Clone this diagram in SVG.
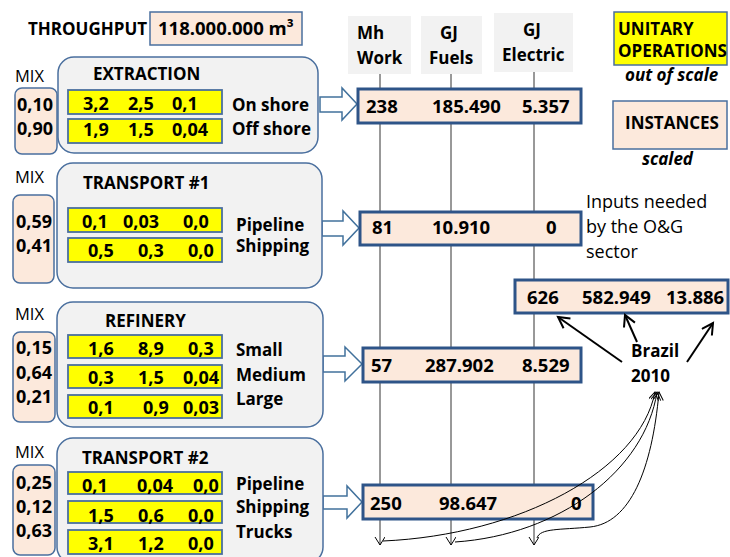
<svg xmlns="http://www.w3.org/2000/svg" width="730" height="557" viewBox="0 0 730 557">
<defs>
<style>
text{font-family:"Open Sans","Liberation Sans",sans-serif;fill:#000}
.b{font-weight:bold;font-size:17px}
.n{font-size:18px}
.v{font-weight:bold;font-size:18px}
.num{font-weight:bold;font-size:18.5px}
.mixl{font-size:16.5px}
.it{font-weight:bold;font-style:italic;font-size:17px}
.lg{font-weight:bold;font-size:17px}
.gray{fill:#f2f2f2;stroke:#4a6f9e;stroke-width:1.5}
.mix{fill:#fce9dc;stroke:#4a6f9e;stroke-width:1.5}
.yel{fill:#ffff00;stroke:#4a6f9e;stroke-width:1.8}
.inst{fill:#fce9dc;stroke:#2e5488;stroke-width:3}
.hdr{fill:#f2f2f2}
.barrow{fill:#fff;stroke:#41719c;stroke-width:1.5;stroke-linejoin:miter}
.vline{stroke:#333;stroke-width:1;fill:none}
.curve{stroke:#000;stroke-width:1;fill:none}
.barr{stroke:#000;stroke-width:2;fill:none}
</style>
<marker id="vdown" markerUnits="userSpaceOnUse" markerWidth="12" markerHeight="12" refX="10" refY="5" orient="auto">
<path d="M2,0 L10,5 L2,10" fill="none" stroke="#000" stroke-width="1"/>
</marker>
<marker id="bhead" markerUnits="userSpaceOnUse" markerWidth="16" markerHeight="16" refX="13" refY="7" orient="auto">
<path d="M2,1 L13,7 L2,13" fill="none" stroke="#000" stroke-width="2"/>
</marker>
</defs>

<g id="throughput">
<text class="b" x="28" y="35">THROUGHPUT</text>
<rect x="150" y="12" width="152" height="33" fill="#fce9dc" stroke="#4a6f9e" stroke-width="1.5"/>
<text class="num" x="158" y="35">118.000.000 m³</text>
</g>

<g id="headers">
<rect class="hdr" x="348" y="16" width="63" height="58"/>
<rect class="hdr" x="421" y="16" width="61" height="58"/>
<rect class="hdr" x="494" y="13" width="79" height="59"/>
<text class="b" x="357" y="39">Mh</text>
<text class="b" x="357" y="64">Work</text>
<text class="b" x="440" y="39">GJ</text>
<text class="b" x="429" y="64">Fuels</text>
<text class="b" x="523" y="36">GJ</text>
<text class="b" x="502" y="61">Electric</text>
</g>

<g id="connectors">
<line class="vline" x1="380" y1="74" x2="380" y2="545" marker-end="url(#vdown)"/>
<line class="vline" x1="451" y1="74" x2="451" y2="545" marker-end="url(#vdown)"/>
<line class="vline" x1="534" y1="72" x2="534" y2="545" marker-end="url(#vdown)"/>
<polygon class="barrow" points="320,97 342,97 342,88 357,104 342,120 342,112 320,112"/>
<polygon class="barrow" points="322,221 343,221 343,211 359,228 343,245 343,236 322,236"/>
<polygon class="barrow" points="323,356 345,356 345,347 362,364 345,381 345,372 323,372"/>
<polygon class="barrow" points="323,496 347,496 347,486 362,502 347,518 347,509 323,509"/>
</g>

<g id="extraction">
<text class="mixl" x="15" y="82">MIX</text>
<rect class="mix" x="15" y="88" width="42" height="66" rx="7"/>
<text class="v" x="17" y="111">0,10</text>
<text class="v" x="17" y="135">0,90</text>
<rect class="gray" x="58" y="57" width="260" height="96" rx="16"/>
<text class="b" x="93" y="80">EXTRACTION</text>
<rect class="yel" x="68" y="90" width="154" height="24"/>
<rect class="yel" x="68" y="119" width="154" height="24"/>
<text class="v" x="83" y="110">3,2</text><text class="v" x="128" y="110">2,5</text><text class="v" x="172" y="110">0,1</text>
<text class="v" x="83" y="136">1,9</text><text class="v" x="128" y="136">1,5</text><text class="v" x="172" y="136">0,04</text>
<text class="b" x="232" y="111">On shore</text>
<text class="b" x="232" y="135">Off shore</text>
</g>

<g id="transport1">
<text class="mixl" x="15" y="183">MIX</text>
<rect class="mix" x="13" y="195" width="41" height="88" rx="7"/>
<text class="v" x="16" y="228">0,59</text>
<text class="v" x="16" y="252">0,41</text>
<rect class="gray" x="57" y="163" width="265" height="125" rx="16"/>
<text class="b" x="83" y="189">TRANSPORT #1</text>
<rect class="yel" x="68" y="208" width="154" height="24"/>
<rect class="yel" x="68" y="238" width="154" height="24"/>
<text class="v" x="82" y="228">0,1</text><text class="v" x="123" y="228">0,03</text><text class="v" x="183" y="228">0,0</text>
<text class="v" x="88" y="257">0,5</text><text class="v" x="138" y="257">0,3</text><text class="v" x="188" y="257">0,0</text>
<text class="b" x="236" y="231">Pipeline</text>
<text class="b" x="236" y="252">Shipping</text>
</g>

<g id="refinery">
<text class="mixl" x="15" y="320">MIX</text>
<rect class="mix" x="13" y="332" width="42" height="90" rx="7"/>
<text class="v" x="16" y="354">0,15</text>
<text class="v" x="16" y="379">0,64</text>
<text class="v" x="16" y="403">0,21</text>
<rect class="gray" x="57" y="302" width="266" height="125" rx="16"/>
<text class="b" x="105" y="327">REFINERY</text>
<rect class="yel" x="68" y="335" width="154" height="23"/>
<rect class="yel" x="68" y="365" width="154" height="23"/>
<rect class="yel" x="68" y="395" width="154" height="23"/>
<text class="v" x="88" y="355">1,6</text><text class="v" x="138" y="355">8,9</text><text class="v" x="188" y="355">0,3</text>
<text class="v" x="88" y="384">0,3</text><text class="v" x="138" y="384">1,5</text><text class="v" x="183" y="384">0,04</text>
<text class="v" x="88" y="414">0,1</text><text class="v" x="143" y="414">0,9</text><text class="v" x="183" y="414">0,03</text>
<text class="b" x="236" y="356">Small</text>
<text class="b" x="236" y="381">Medium</text>
<text class="b" x="236" y="405">Large</text>
</g>

<g id="transport2">
<text class="mixl" x="15" y="458">MIX</text>
<rect class="mix" x="13" y="465" width="42" height="90" rx="7"/>
<text class="v" x="16" y="489">0,25</text>
<text class="v" x="16" y="513">0,12</text>
<text class="v" x="16" y="537">0,63</text>
<rect class="gray" x="57" y="438" width="266" height="125" rx="16"/>
<text class="b" x="82" y="464">TRANSPORT #2</text>
<rect class="yel" x="68" y="472" width="154" height="22"/>
<rect class="yel" x="68" y="501" width="154" height="22"/>
<rect class="yel" x="68" y="530" width="154" height="24"/>
<text class="v" x="82" y="492">0,1</text><text class="v" x="137" y="492">0,04</text><text class="v" x="193" y="492">0,0</text>
<text class="v" x="88" y="522">1,5</text><text class="v" x="138" y="522">0,6</text><text class="v" x="188" y="522">0,0</text>
<text class="v" x="88" y="550">3,1</text><text class="v" x="138" y="550">1,2</text><text class="v" x="188" y="550">0,0</text>
<text class="b" x="236" y="490">Pipeline</text>
<text class="b" x="236" y="513">Shipping</text>
<text class="b" x="236" y="538">Trucks</text>
</g>

<g id="inst-extraction">
<rect class="inst" x="358" y="89" width="223" height="34"/>
<text class="num" x="366" y="113">238</text><text class="num" x="432" y="113">185.490</text><text class="num" x="522" y="113">5.357</text>
</g>
<g id="inst-transport1">
<rect class="inst" x="360" y="212" width="221" height="33"/>
<text class="num" x="372" y="234">81</text><text class="num" x="432" y="234">10.910</text><text class="num" x="546" y="234">0</text>
</g>
<g id="inst-refinery">
<rect class="inst" x="363" y="348" width="218" height="34"/>
<text class="num" x="371" y="372">57</text><text class="num" x="425" y="372">287.902</text><text class="num" x="522" y="372">8.529</text>
</g>
<g id="inst-transport2">
<rect class="inst" x="363" y="485" width="230" height="34"/>
<text class="num" x="370" y="510">250</text><text class="num" x="439" y="510">98.647</text><text class="num" x="571" y="510">0</text>
</g>

<g id="inputs-note">
<text class="n" x="586" y="208">Inputs needed</text>
<text class="n" x="586" y="233">by the O&amp;G</text>
<text class="n" x="586" y="258">sector</text>
</g>

<g id="brazil-total">
<rect class="inst" x="515" y="280" width="213" height="33"/>
<text class="num" x="527" y="304">626</text><text class="num" x="582" y="304">582.949</text><text class="num" x="666" y="304">13.886</text>
</g>

<g id="brazil-label">
<text class="b" x="631" y="357">Brazil</text>
<text class="b" x="631" y="382">2010</text>
</g>

<g id="brazil-arrows">
<line class="barr" x1="622" y1="362" x2="558" y2="317" marker-end="url(#bhead)"/>
<line class="barr" x1="637" y1="342" x2="625" y2="315" marker-end="url(#bhead)"/>
<line class="barr" x1="687" y1="362" x2="713" y2="323" marker-end="url(#bhead)"/>
<path class="curve" d="M383,541 C520,535 640,470 655,392" marker-end="url(#vdown)"/>
<path class="curve" d="M455,542 C560,535 645,470 657,392" marker-end="url(#vdown)"/>
<path class="curve" d="M537,538 C540,528 560,530 590,527 C630,523 652,470 659,392" marker-end="url(#vdown)"/>
</g>

<g id="legend">
<rect x="614" y="12" width="113" height="53" fill="#ffff00" stroke="#4a6f9e" stroke-width="1.5"/>
<text class="lg" x="618" y="35">UNITARY</text>
<text class="lg" x="618" y="57">OPERATIONS</text>
<text class="it" x="625" y="81">out of scale</text>
<rect x="613" y="101" width="114" height="48" fill="#fce9dc" stroke="#4a6f9e" stroke-width="1.5"/>
<text class="lg" x="625" y="129">INSTANCES</text>
<text class="it" x="642" y="165">scaled</text>
</g>
</svg>
